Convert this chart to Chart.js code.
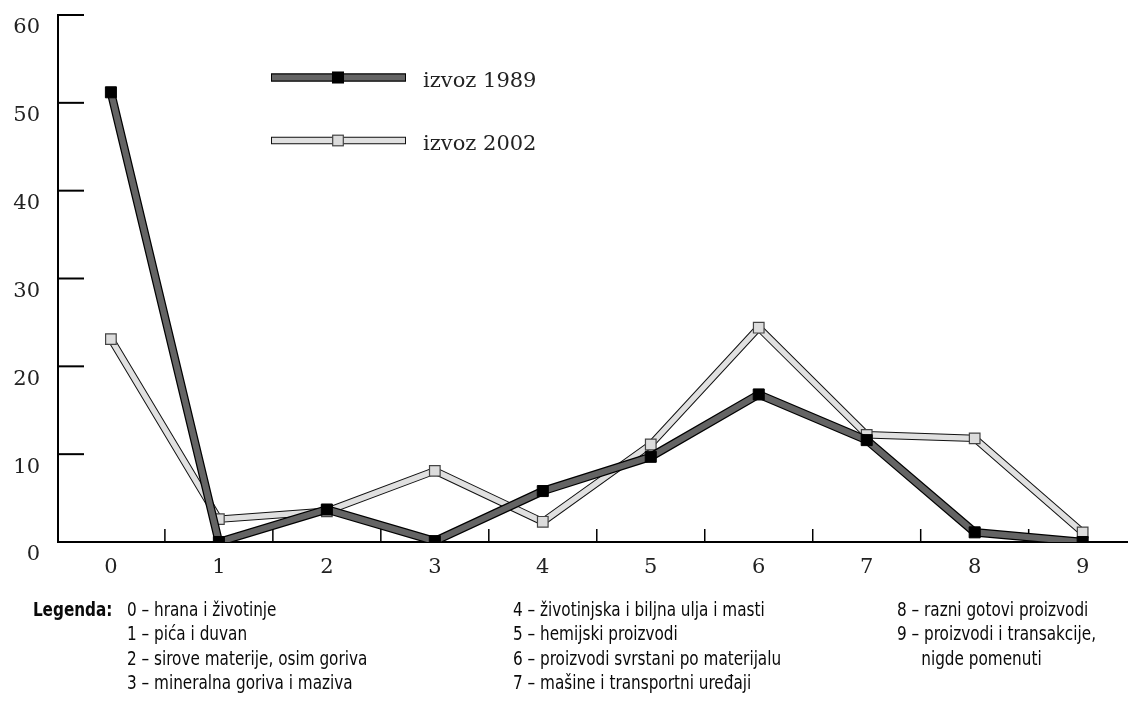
<!DOCTYPE html>
<html><head><meta charset="utf-8">
<script src="https://cdn.jsdelivr.net/npm/chart.js@4.4.0/dist/chart.umd.min.js"></script>
<style>
html,body{margin:0;padding:0;background:#fff;}
#wrap{position:relative;width:1128px;height:706px;overflow:hidden;background:#fff;}
canvas{position:absolute;left:0;top:0;}
.leg{position:absolute;font-family:"DejaVu Sans Condensed","Liberation Sans Narrow",sans-serif;font-size:19.5px;line-height:24.3px;color:#0a0a0a;white-space:pre;transform:scaleX(0.87);transform-origin:0 0;}
.legR{transform-origin:100% 0;text-align:right;font-weight:bold;}
</style></head>
<body><div id="wrap"><canvas id="c" width="1128" height="706" style="width:1128px;height:706px"></canvas>
<div class="leg legR" style="right:1016px;top:598px">Legenda:</div>
<div class="leg" style="left:127px;top:598px">0 – hrana i životinje<br>1 – pića i duvan<br>2 – sirove materije, osim goriva<br>3 – mineralna goriva i maziva</div>
<div class="leg" style="left:513px;top:598px">4 – životinjska i biljna ulja i masti<br>5 – hemijski proizvodi<br>6 – proizvodi svrstani po materijalu<br>7 – mašine i transportni uređaji</div>
<div class="leg" style="left:897px;top:598px">8 – razni gotovi proizvodi<br>9 – proizvodi i transakcije,<br>     nigde pomenuti</div>
</div>
<script>
const categories = ['0','1','2','3','4','5','6','7','8','9'];
const izvoz1989 = [51.2, 0, 3.7, 0.1, 5.8, 9.7, 16.8, 11.6, 1.1, 0];
const izvoz2002 = [23.1, 2.6, 3.5, 8.1, 2.3, 11.1, 24.4, 12.2, 11.8, 1.1];
const yTicks = [0, 10, 20, 30, 40, 50, 60];
const seriesNames = ['izvoz 1989', 'izvoz 2002'];

const pts = arr => arr.map((v, i) => ({x: i, y: v}));
const serifFont = {family: 'DejaVu Serif', size: 21};

const tickMarks = {
  id: 'tickMarks',
  beforeDatasetsDraw(chart) {
    const {ctx, scales: {x, y}} = chart;
    ctx.save();
    ctx.strokeStyle = '#000';
    ctx.lineWidth = 2;
    yTicks.forEach(v => {
      const py = y.getPixelForValue(v);
      ctx.beginPath(); ctx.moveTo(x.left, py); ctx.lineTo(x.left + 26, py); ctx.stroke();
    });
    ctx.lineWidth = 1.5;
    for (let i = 0; i < categories.length - 1; i++) {
      const px = x.getPixelForValue(i + 0.5);
      ctx.beginPath(); ctx.moveTo(px, y.bottom); ctx.lineTo(px, y.bottom - 13); ctx.stroke();
    }
    ctx.restore();
  }
};

const seriesLegend = {
  id: 'seriesLegend',
  afterDatasetsDraw(chart) {
    const ctx = chart.ctx;
    const items = [
      {fill: 0, outline: 1, ly: 77.5, ty: 87},
      {fill: 2, outline: 3, ly: 140.5, ty: 150}
    ];
    ctx.save();
    items.forEach((it, k) => {
      const f = chart.data.datasets[it.fill];
      const o = chart.data.datasets[it.outline];
      ctx.lineCap = 'butt';
      ctx.strokeStyle = o.borderColor; ctx.lineWidth = o.borderWidth;
      ctx.beginPath(); ctx.moveTo(271, it.ly); ctx.lineTo(406, it.ly); ctx.stroke();
      ctx.strokeStyle = f.borderColor; ctx.lineWidth = f.borderWidth;
      ctx.beginPath(); ctx.moveTo(272, it.ly); ctx.lineTo(405, it.ly); ctx.stroke();
      const s = f.pointRadius * Math.SQRT1_2;
      ctx.fillStyle = f.pointBackgroundColor;
      ctx.fillRect(338 - s, it.ly - s, 2 * s, 2 * s);
      ctx.strokeStyle = f.pointBorderColor; ctx.lineWidth = f.pointBorderWidth;
      ctx.strokeRect(338 - s, it.ly - s, 2 * s, 2 * s);
      ctx.fillStyle = '#222';
      ctx.font = '21px "DejaVu Serif"';
      ctx.textBaseline = 'alphabetic';
      ctx.textAlign = 'left';
      ctx.fillText(seriesNames[k], 423, it.ty);
    });
    ctx.restore();
  }
};

new Chart(document.getElementById('c'), {
  type: 'line',
  data: {
    datasets: [
      {label: seriesNames[0], data: pts(izvoz1989), borderColor: '#646464', borderWidth: 6,
       pointStyle: 'rect', pointRadius: 7.8, pointBackgroundColor: '#000', pointBorderColor: '#000',
       pointBorderWidth: 1, borderJoinStyle: 'miter', tension: 0},
      {label: 'o1989', data: pts(izvoz1989), borderColor: '#000', borderWidth: 8.5, pointRadius: 0,
       borderJoinStyle: 'miter', tension: 0},
      {label: seriesNames[1], data: pts(izvoz2002), borderColor: '#e0e0e0', borderWidth: 5.5,
       pointStyle: 'rect', pointRadius: 7.5, pointBackgroundColor: '#dcdcdc', pointBorderColor: '#444',
       pointBorderWidth: 1.2, borderJoinStyle: 'miter', tension: 0},
      {label: 'o2002', data: pts(izvoz2002), borderColor: '#111', borderWidth: 7.5, pointRadius: 0,
       borderJoinStyle: 'miter', tension: 0}
    ]
  },
  options: {
    responsive: false,
    animation: false,
    devicePixelRatio: 1,
    layout: {autoPadding: false, padding: {top: 15, left: 0, right: 0, bottom: 0}},
    plugins: {legend: {display: false}, tooltip: {enabled: false}},
    elements: {point: {hoverRadius: 0}},
    scales: {
      x: {
        type: 'linear', min: -0.49, max: 9.42,
        grid: {display: false, drawTicks: false},
        border: {display: true, color: '#000', width: 2},
        afterBuildTicks: s => { s.ticks = categories.map((c, i) => ({value: i})); },
        afterFit: s => { s.height = 164; s.paddingLeft = 0; s.paddingRight = 0; },
        ticks: {callback: v => categories[v], font: serifFont, color: '#222', padding: 13,
                maxRotation: 0, autoSkip: false}
      },
      y: {
        type: 'linear', min: 0, max: 60,
        grid: {display: false, drawTicks: false},
        border: {display: true, color: '#000', width: 2},
        afterBuildTicks: s => { s.ticks = yTicks.map(v => ({value: v})); },
        afterFit: s => { s.width = 58; s.paddingTop = 0; s.paddingBottom = 0; },
        ticks: {font: serifFont, color: '#222', padding: 18, labelOffset: 13}
      }
    }
  },
  plugins: [tickMarks, seriesLegend]
});
</script>
</body></html>
